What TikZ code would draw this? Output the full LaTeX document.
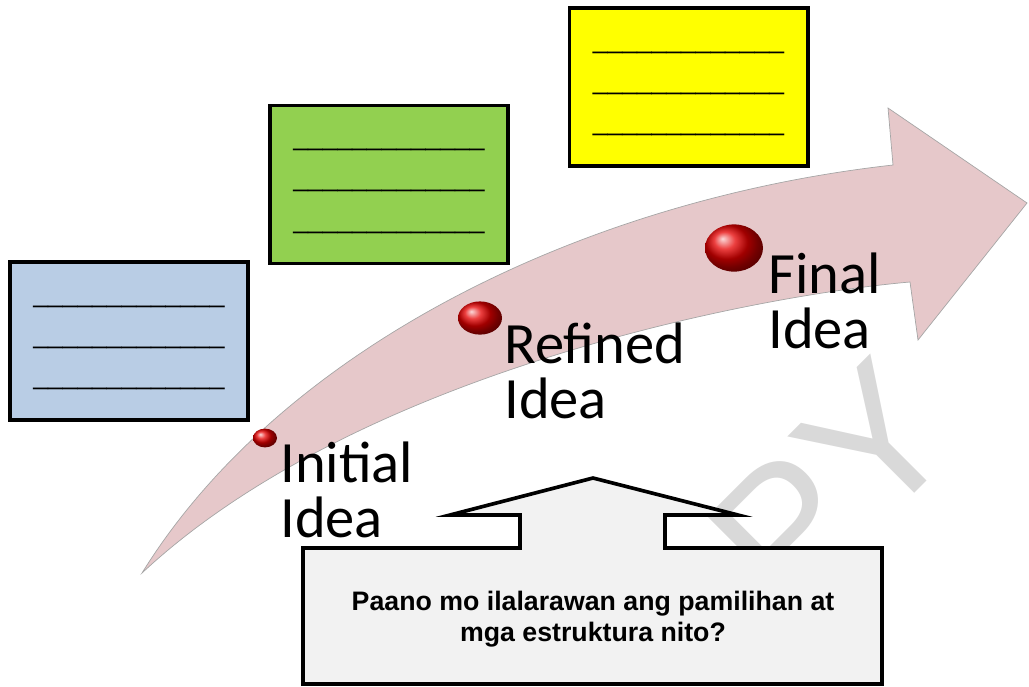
\documentclass[tikz,border=0pt]{standalone}
\usepackage{fontspec}
\setmainfont{Carlito}
\newfontfamily\arialfont{Liberation Sans}
\usetikzlibrary{shapes.geometric}

\definecolor{boxblue}{RGB}{185,205,229}
\definecolor{boxgreen}{RGB}{146,208,80}
\definecolor{boxyellow}{RGB}{255,255,0}
\definecolor{arrowpink}{RGB}{230,200,202}
\definecolor{calloutgray}{RGB}{242,242,242}
\definecolor{markgray}{RGB}{217,217,217}

\newcommand{\blankrow}{\_\_\_\_\_\_\_\_\_\_\_\_\_}

\begin{document}
\begin{tikzpicture}[
    x=0.025cm, y=-0.025cm,
    notebox/.style={draw, line width=2.8pt, minimum width=5.95cm, minimum height=3.95cm,
        align=center, inner sep=0pt, text height=65.6pt,
        font=\arialfont\fontsize{18.8pt}{29.2pt}\selectfont},
    dot/.style={ellipse, inner sep=0pt, ball color=red!90!black},
    stage/.style={anchor=base west, align=left, inner sep=0pt,
        font=\fontsize{41.6pt}{39pt}\selectfont}
]
\useasboundingbox (0,0) rectangle (1029,686);

% 水印
\node[rotate=45, anchor=base east, inner sep=0pt, text=markgray,
    font=\arialfont\fontsize{134pt}{134pt}\selectfont] (mark) at (966,442) {PY};

% 弯曲的箭头
\draw[draw=gray!70, line width=0.5pt, fill=arrowpink]
    (142,573) .. controls (280,350) and (580,200) .. (893,165)
    -- (888,108) -- (1027,203) -- (918,340) -- (910,282)
    .. controls (760,295) and (360,370) .. (142,573) -- cycle;

% 红色圆点
\node[dot, minimum width=0.6cm, minimum height=0.47cm] (d1) at (265,438) {};
\node[dot, minimum width=1.1cm, minimum height=0.83cm] (d2) at (480,318) {};
\node[dot, minimum width=1.45cm, minimum height=1.18cm] (d3) at (734,248) {};

% 阶段名称
\node[stage] (initial) at (280,537) {Initial\\Idea};
\node[stage] (refined) at (504,418) {Refined\\Idea};
\node[stage] (final) at (768,348) {Final\\Idea};

% 三个方框
\node[notebox, fill=boxblue] (blue) at (129,341) {\blankrow\\\blankrow\\\blankrow};
\node[notebox, fill=boxgreen] (green) at (389,184.5) {\blankrow\\\blankrow\\\blankrow};
\node[notebox, fill=boxyellow] (yellow) at (688.5,87) {\blankrow\\\blankrow\\\blankrow};

% 向上的标注框
\draw[line width=2.6pt, fill=calloutgray]
    (303,548) -- (520,548) -- (520,515) -- (450,515) -- (593,478) -- (738,515)
    -- (665,515) -- (665,548) -- (882,548) -- (882,684) -- (303,684) -- cycle;
\node[align=center, inner sep=0pt, font=\arialfont\bfseries\fontsize{19pt}{22pt}\selectfont]
    (question) at (593,619.5) {Paano mo ilalarawan ang pamilihan at\\mga estruktura nito?};
\end{tikzpicture}
\end{document}
